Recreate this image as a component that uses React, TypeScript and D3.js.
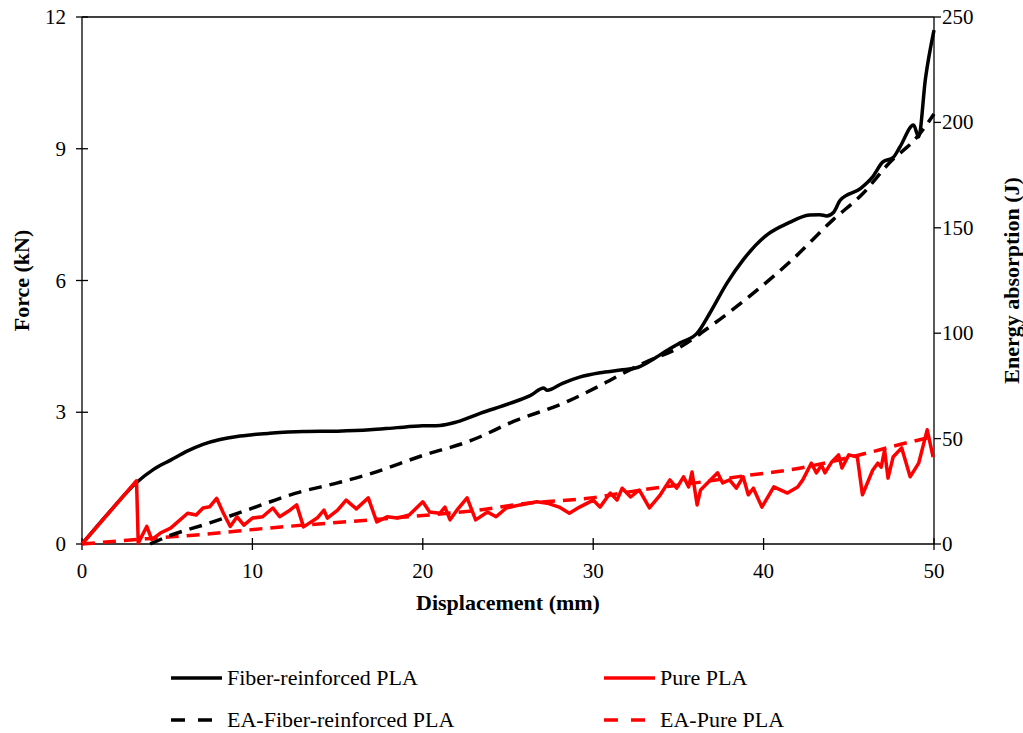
import React from "react";
import * as d3 from "d3";

const W = 1023;
const H = 733;
const M = { left: 82, right: 934, top: 17, bottom: 544 };

const xTicks = [0, 10, 20, 30, 40, 50];
const forceTicks = [0, 3, 6, 9, 12];
const energyTicks = [0, 50, 100, 150, 200, 250];

// Force (kN) vs displacement (mm)
const fiberForce: [number, number][] = [
  [0, 0], [1.5, 0.68], [3.2, 1.4], [4.2, 1.7], [5.2, 1.91], [6.2, 2.12], [7.1, 2.27], [8.1, 2.38],
  [9.1, 2.45], [10, 2.49], [11, 2.52], [13, 2.56], [15, 2.57], [16.9, 2.6], [18.5, 2.65], [20, 2.69],
  [21, 2.7], [22, 2.78], [23.4, 2.98], [25.1, 3.2], [26.3, 3.38], [27.1, 3.55], [27.3, 3.5], [28.2, 3.66],
  [29.2, 3.8], [30.4, 3.9], [31.6, 3.96], [32.6, 4.02], [33.7, 4.25], [34.3, 4.4], [35.1, 4.58], [36.1, 4.8],
  [36.85, 5.26], [37.85, 5.94], [38.8, 6.47], [40.2, 7.04], [41.4, 7.3], [42.7, 7.49], [43.3, 7.5],
  [43.7, 7.47], [44.1, 7.55], [44.5, 7.83], [45.7, 8.1], [46.4, 8.36], [47, 8.7], [47.6, 8.8], [48, 9.04],
  [48.8, 9.54], [49.1, 9.27], [49.5, 10.6], [50, 11.7],
];

const pureForce: [number, number][] = [
  [0, 0], [3.2, 1.44], [3.3, 0.02], [3.8, 0.4], [4.1, 0.1], [4.6, 0.25], [5.2, 0.36], [6.2, 0.7],
  [6.7, 0.66], [7.1, 0.82], [7.5, 0.85], [7.9, 1.04], [8.3, 0.7], [8.7, 0.4], [9.1, 0.62], [9.5, 0.43],
  [10, 0.59], [10.6, 0.62], [11.2, 0.82], [11.6, 0.62], [12.2, 0.77], [12.6, 0.89], [13, 0.39],
  [13.8, 0.59], [14.2, 0.77], [14.4, 0.59], [15, 0.77], [15.5, 1.0], [16.1, 0.8], [16.8, 1.05],
  [17.3, 0.5], [17.9, 0.62], [18.5, 0.59], [19.2, 0.66], [20, 0.96], [20.4, 0.73], [21, 0.7],
  [21.3, 0.84], [21.6, 0.55], [22, 0.77], [22.6, 1.05], [23.1, 0.55], [23.8, 0.73], [24.3, 0.62],
  [24.9, 0.82], [25.7, 0.89], [26.7, 0.96], [27.3, 0.93], [28, 0.84], [28.6, 0.7], [29.2, 0.84],
  [30, 1.0], [30.4, 0.84], [31, 1.16], [31.4, 1.0], [31.7, 1.27], [32.2, 1.07], [32.7, 1.23],
  [33.3, 0.82], [33.9, 1.1], [34.5, 1.46], [34.9, 1.27], [35.3, 1.53], [35.6, 1.3], [35.8, 1.64],
  [36.1, 0.89], [36.3, 1.23], [37.3, 1.62], [37.6, 1.39], [38, 1.46], [38.4, 1.27], [38.8, 1.53],
  [39.1, 1.12], [39.4, 1.27], [39.9, 0.84], [40.6, 1.3], [41.4, 1.16], [42, 1.3], [42.3, 1.46],
  [42.8, 1.84], [43.1, 1.62], [43.4, 1.8], [43.6, 1.62], [44, 1.87], [44.4, 2.03], [44.6, 1.73],
  [45, 2.03], [45.5, 1.98], [45.8, 1.12], [46.4, 1.68], [46.7, 1.84], [46.9, 1.75], [47.1, 2.14],
  [47.3, 1.5], [47.6, 1.98], [48.1, 2.19], [48.6, 1.53], [49.1, 1.84], [49.6, 2.6], [49.95, 1.98],
];

// Energy absorption (J) vs displacement (mm)
const fiberEnergy: [number, number][] = [
  [4, 0], [5, 3.5], [7.5, 10], [10, 17], [12.5, 24], [15, 29], [16.8, 33], [20, 42], [22.8, 49],
  [23.4, 51], [25, 57], [28.6, 68], [30.6, 76], [32, 82], [33, 86], [35, 93], [37, 104], [39.4, 119],
  [41.7, 135], [44.1, 154], [45.8, 166], [47.4, 181], [49, 193], [50, 204],
];

const pureEnergy: [number, number][] = [
  [0, 0], [3.8, 2.5], [7, 4.5], [11, 7.6], [16.9, 11.4], [20, 13.5], [23, 15.8], [26, 19.2], [30, 22],
  [32.7, 25.5], [36, 29], [39.2, 32.7], [41.4, 35], [45.5, 42], [48.4, 48], [50, 51],
];

const legendItems = [
  { label: "Fiber-reinforced PLA", color: "#000000", dashed: false, col: 0, row: 0 },
  { label: "Pure PLA", color: "#ff0000", dashed: false, col: 1, row: 0 },
  { label: "EA-Fiber-reinforced PLA", color: "#000000", dashed: true, col: 0, row: 1 },
  { label: "EA-Pure PLA", color: "#ff0000", dashed: true, col: 1, row: 1 },
];

const FONT = "'Liberation Serif', 'Times New Roman', serif";

export default function App() {
  const x = d3.scaleLinear().domain([0, 50]).range([M.left, M.right]);
  const yF = d3.scaleLinear().domain([0, 12]).range([M.bottom, M.top]);
  const yE = d3.scaleLinear().domain([0, 250]).range([M.bottom, M.top]);

  const smoothF = d3.line<[number, number]>().x((d) => x(d[0])).y((d) => yF(d[1])).curve(d3.curveMonotoneX);
  const linF = d3.line<[number, number]>().x((d) => x(d[0])).y((d) => yF(d[1])).curve(d3.curveLinear);
  const smoothE = d3.line<[number, number]>().x((d) => x(d[0])).y((d) => yE(d[1])).curve(d3.curveMonotoneX);

  const dash = "13,8";
  const sw = 3.5;

  return (
    <svg width={W} height={H} style={{ position: "absolute", left: 0, top: 0, background: "#fff" }} fontFamily={FONT}>
      <rect x={0} y={0} width={W} height={H} fill="#fff" />
      {/* frame */}
      <line x1={M.left} x2={M.right} y1={M.top} y2={M.top} stroke="#000" strokeWidth={1.3} />
      <line x1={M.right} x2={M.right} y1={M.top} y2={M.bottom} stroke="#000" strokeWidth={1.3} />
      <line x1={M.left} x2={M.left} y1={M.top} y2={M.bottom} stroke="#000" strokeWidth={1.3} />
      <line x1={M.left} x2={M.right} y1={M.bottom} y2={M.bottom} stroke="#000" strokeWidth={1.3} />

      {/* x ticks */}
      {xTicks.map((t) => (
        <g key={"x" + t}>
          <line x1={x(t)} x2={x(t)} y1={M.bottom - 6} y2={M.bottom + 6} stroke="#000" strokeWidth={1.3} />
          <text x={x(t)} y={578} textAnchor="middle" fontSize={21} fill="#000">{t}</text>
        </g>
      ))}
      {/* left ticks */}
      {forceTicks.map((t) => (
        <g key={"f" + t}>
          <line x1={M.left - 6} x2={M.left + 6} y1={yF(t)} y2={yF(t)} stroke="#000" strokeWidth={1.3} />
          <text x={66} y={yF(t) + 7} textAnchor="end" fontSize={21} fill="#000">{t}</text>
        </g>
      ))}
      {/* right ticks */}
      {energyTicks.map((t) => (
        <g key={"e" + t}>
          <line x1={M.right} x2={M.right + 7} y1={yE(t)} y2={yE(t)} stroke="#000" strokeWidth={1.3} />
          <text x={942} y={yE(t) + 7} textAnchor="start" fontSize={21} fill="#000">{t}</text>
        </g>
      ))}

      {/* axis titles */}
      <text x={(M.left + M.right) / 2} y={610} textAnchor="middle" fontSize={22} fontWeight="bold" fill="#000">
        Displacement (mm)
      </text>
      <text transform={`translate(29,${(M.top + M.bottom) / 2}) rotate(-90)`} textAnchor="middle" fontSize={22} fontWeight="bold" fill="#000">
        Force (kN)
      </text>
      <text transform={`translate(1019,${(M.top + M.bottom) / 2}) rotate(-90)`} textAnchor="middle" fontSize={22} fontWeight="bold" fill="#000">
        Energy absorption (J)
      </text>

      {/* series */}
      <path d={smoothE(pureEnergy) ?? ""} fill="none" stroke="#ff0000" strokeWidth={sw} strokeDasharray={dash} />
      <path d={smoothE(fiberEnergy) ?? ""} fill="none" stroke="#000" strokeWidth={sw} strokeDasharray={dash} />
      <path d={smoothF(fiberForce) ?? ""} fill="none" stroke="#000" strokeWidth={sw} strokeLinejoin="round" />
      <path d={linF(pureForce) ?? ""} fill="none" stroke="#ff0000" strokeWidth={sw} strokeLinejoin="round" />

      {/* legend */}
      {legendItems.map((it) => {
        const lx = it.col === 0 ? 171 : 604;
        const ly = it.row === 0 ? 678 : 720;
        return (
          <g key={it.label}>
            <line x1={lx} x2={lx + 51} y1={ly} y2={ly} stroke={it.color} strokeWidth={sw}
              strokeDasharray={it.dashed ? "14,13" : undefined} />
            <text x={lx + 56} y={ly + 7} fontSize={22} fill="#000">{it.label}</text>
          </g>
        );
      })}
    </svg>
  );
}
